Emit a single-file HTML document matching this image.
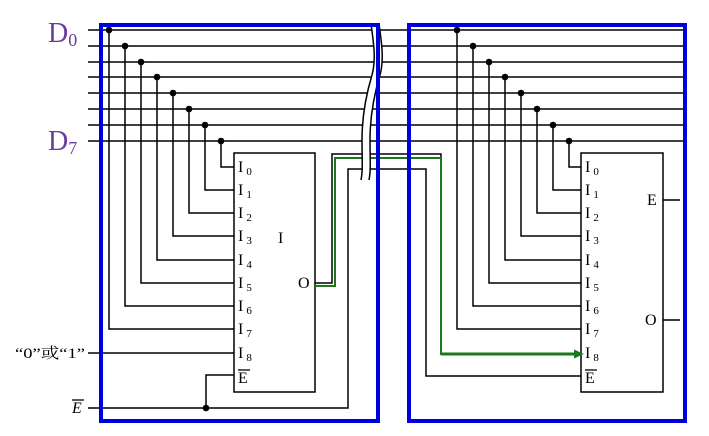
<!DOCTYPE html>
<html><head><meta charset="utf-8"><style>
html,body{margin:0;padding:0;background:#fff;}
svg{display:block;}
text{font-family:"Liberation Serif","Noto Serif CJK SC",serif;fill:#000;}
</style></head><body>
<svg width="709" height="436" viewBox="0 0 709 436" xmlns="http://www.w3.org/2000/svg">
<g stroke="#000" stroke-width="1.5" fill="none">
<line x1="88" y1="30" x2="684" y2="30"/>
<line x1="88" y1="46" x2="684" y2="46"/>
<line x1="88" y1="62" x2="684" y2="62"/>
<line x1="88" y1="77" x2="684" y2="77"/>
<line x1="88" y1="93" x2="684" y2="93"/>
<line x1="88" y1="109" x2="684" y2="109"/>
<line x1="88" y1="125" x2="684" y2="125"/>
<line x1="88" y1="141" x2="684" y2="141"/>
<polyline points="109,30 109,329 234,329"/>
<polyline points="125,46 125,306 234,306"/>
<polyline points="141,62 141,283 234,283"/>
<polyline points="157,77 157,260 234,260"/>
<polyline points="173,93 173,236 234,236"/>
<polyline points="189,109 189,213 234,213"/>
<polyline points="205,125 205,190 234,190"/>
<polyline points="221,141 221,167 234,167"/>
<polyline points="457,30 457,329 581,329"/>
<polyline points="473,46 473,306 581,306"/>
<polyline points="489,62 489,283 581,283"/>
<polyline points="505,77 505,260 581,260"/>
<polyline points="521,93 521,236 581,236"/>
<polyline points="537,109 537,213 581,213"/>
<polyline points="553,125 553,190 581,190"/>
<polyline points="569,141 569,167 581,167"/>
<rect x="234" y="153" width="81" height="239"/>
<rect x="581" y="153" width="82" height="239"/>
<line x1="663" y1="200" x2="680" y2="200"/>
<line x1="663" y1="320" x2="680" y2="320"/>
<line x1="88" y1="353" x2="234" y2="353"/>
<polyline points="88,408 348,408 348,169 426,169 426,376 581,376"/>
<polyline points="206,408 206,375 234,375"/>
<polyline points="315,283 332,283 332,154 441,154 441,158"/>
</g>
<polyline points="315,286 335,286 335,158 441,158 441,354 576,354" stroke="#1a7a1a" stroke-width="2" fill="none"/>
<line x1="441" y1="354" x2="576" y2="354" stroke="#1a7a1a" stroke-width="3"/>
<polygon points="584,354 574,349.5 574,358.5" fill="#1a7a1a"/>
<g fill="#000">
<circle cx="109" cy="30" r="3.3"/><circle cx="125" cy="46" r="3.3"/><circle cx="141" cy="62" r="3.3"/><circle cx="157" cy="77" r="3.3"/>
<circle cx="173" cy="93" r="3.3"/><circle cx="189" cy="109" r="3.3"/><circle cx="205" cy="125" r="3.3"/><circle cx="221" cy="141" r="3.3"/>
<circle cx="457" cy="30" r="3.3"/><circle cx="473" cy="46" r="3.3"/><circle cx="489" cy="62" r="3.3"/><circle cx="505" cy="77" r="3.3"/>
<circle cx="521" cy="93" r="3.3"/><circle cx="537" cy="109" r="3.3"/><circle cx="553" cy="125" r="3.3"/><circle cx="569" cy="141" r="3.3"/>
<circle cx="206" cy="408" r="3.3"/>
</g>
<path d="M371,24 C374,45 376,60 372,75 C366,95 362,115 362,140 C362,160 363,170 361,180 L369,180 C371,170 370,160 370,140 C370,115 374,95 380,75 C384,60 382,45 379,24 Z" fill="#fff" stroke="none"/>
<path d="M371,24 C374,45 376,60 372,75 C366,95 362,115 362,140 C362,160 363,170 361,180" stroke="#000" stroke-width="1.5" fill="none"/>
<path d="M379,24 C382,45 384,60 380,75 C374,95 370,115 370,140 C370,160 371,170 369,180" stroke="#000" stroke-width="1.5" fill="none"/>
<rect x="101" y="25" width="277" height="396" stroke="#0000dd" stroke-width="4" fill="none"/>
<rect x="409" y="25" width="276" height="396" stroke="#0000dd" stroke-width="4" fill="none"/>
<text x="48" y="42" font-size="28" style="fill:#6a3d9a">D<tspan font-size="18" dy="4">0</tspan></text>
<text x="48" y="150" font-size="28" style="fill:#6a3d9a">D<tspan font-size="18" dy="4">7</tspan></text>
<g font-size="16">
<text x="238" y="172">I<tspan font-size="11" dx="3" dy="3">0</tspan></text>
<text x="238" y="195">I<tspan font-size="11" dx="3" dy="3">1</tspan></text>
<text x="238" y="218">I<tspan font-size="11" dx="3" dy="3">2</tspan></text>
<text x="238" y="241">I<tspan font-size="11" dx="3" dy="3">3</tspan></text>
<text x="238" y="265">I<tspan font-size="11" dx="3" dy="3">4</tspan></text>
<text x="238" y="288">I<tspan font-size="11" dx="3" dy="3">5</tspan></text>
<text x="238" y="311">I<tspan font-size="11" dx="3" dy="3">6</tspan></text>
<text x="238" y="334">I<tspan font-size="11" dx="3" dy="3">7</tspan></text>
<text x="238" y="358">I<tspan font-size="11" dx="3" dy="3">8</tspan></text>
<text x="238" y="383">E</text>
<line x1="238" y1="370" x2="250" y2="370" stroke="#000" stroke-width="1.3"/>
<text x="278" y="243">I</text>
<text x="298" y="288">O</text>
<text x="585" y="172">I<tspan font-size="11" dx="3" dy="3">0</tspan></text>
<text x="585" y="195">I<tspan font-size="11" dx="3" dy="3">1</tspan></text>
<text x="585" y="218">I<tspan font-size="11" dx="3" dy="3">2</tspan></text>
<text x="585" y="241">I<tspan font-size="11" dx="3" dy="3">3</tspan></text>
<text x="585" y="265">I<tspan font-size="11" dx="3" dy="3">4</tspan></text>
<text x="585" y="288">I<tspan font-size="11" dx="3" dy="3">5</tspan></text>
<text x="585" y="311">I<tspan font-size="11" dx="3" dy="3">6</tspan></text>
<text x="585" y="334">I<tspan font-size="11" dx="3" dy="3">7</tspan></text>
<text x="585" y="358">I<tspan font-size="11" dx="3" dy="3">8</tspan></text>
<text x="585" y="383">E</text>
<line x1="585" y1="370" x2="597" y2="370" stroke="#000" stroke-width="1.3"/>
<text x="647" y="205">E</text>
<text x="645" y="325">O</text>
<text x="15" y="358" font-size="15" textLength="70" lengthAdjust="spacingAndGlyphs">“0”或“1”</text>
<text x="72" y="413" font-style="italic">E</text>
<line x1="72" y1="400" x2="84" y2="400" stroke="#000" stroke-width="1.3"/>
</g>
</svg>
</body></html>
